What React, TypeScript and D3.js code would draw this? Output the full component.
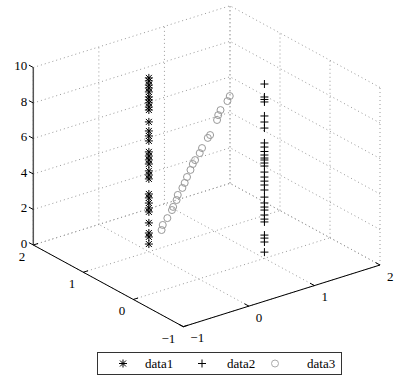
import React from "react";
import * as d3 from "d3";

const xTicks = [-1, 0, 1, 2];
const yTicks = [-1, 0, 1, 2];
const zTicks = [0, 2, 4, 6, 8, 10];

const data1X = 0;
const data1Y = 1;
const data1Z = [9.79, 9.62, 9.39, 9.22, 9.0, 8.72, 8.55, 8.38, 8.15, 7.98, 7.31, 6.8, 6.52, 6.24, 5.62, 5.39, 5.17, 4.94, 4.55, 4.32, 4.1, 3.25, 3.03, 2.74, 2.46, 2.24, 1.62, 1.05, 0.83, 0.43];

const data2X = 1;
const data2Y = 0;
const data2Z = [9.82, 9.09, 8.95, 8.81, 8.02, 7.68, 7.34, 6.5, 6.27, 6.02, 5.82, 5.65, 5.54, 5.37, 5.2, 4.86, 4.58, 4.35, 4.13, 3.85, 3.45, 3.12, 2.89, 2.72, 2.44, 2.21, 2.05, 1.31, 1.14, 0.92, 0.35];

const data3X = [0.11, 0.12, 0.16, 0.2, 0.21, 0.24, 0.25, 0.29, 0.31, 0.33, 0.36, 0.38, 0.4, 0.44, 0.46, 0.51, 0.53, 0.59, 0.6, 0.62, 0.68, 0.7];
const data3Y = [0.89, 0.88, 0.84, 0.8, 0.79, 0.76, 0.75, 0.71, 0.69, 0.67, 0.64, 0.62, 0.6, 0.56, 0.54, 0.49, 0.47, 0.41, 0.4, 0.38, 0.32, 0.3];
const data3Z = [1.26, 1.55, 1.95, 2.42, 2.6, 3.0, 3.29, 3.7, 3.99, 4.33, 4.74, 5.08, 5.31, 5.72, 6.01, 6.6, 6.77, 7.64, 7.92, 8.21, 8.74, 9.03];

const legendLabels = ["data1", "data2", "data3"];

const W = 400;
const H = 380;
const FONT = "'Liberation Serif', 'Times New Roman', serif";

// projection
const origin: [number, number] = [183.3, 326.7];
const EX: [number, number] = [196.7, -61.7];
const EY: [number, number] = [-150, -81.7];
const EZ: [number, number] = [0, -177.5];

const xs = d3.scaleLinear().domain([-1, 2]).range([0, 1]);
const ys = d3.scaleLinear().domain([-1, 2]).range([0, 1]);
const zs = d3.scaleLinear().domain([0, 10]).range([0, 1]);

function P(x: number, y: number, z: number): [number, number] {
  const a = xs(x), b = ys(y), c = zs(z);
  return [
    origin[0] + a * EX[0] + b * EY[0] + c * EZ[0],
    origin[1] + a * EX[1] + b * EY[1] + c * EZ[1],
  ];
}

const norm = (v: [number, number]): [number, number] => {
  const l = Math.hypot(v[0], v[1]);
  return [v[0] / l, v[1] / l];
};
const ux = norm(EX);
const uy = norm(EY);

const line = d3.line<[number, number]>();

const fmt = (v: number) => (v < 0 ? "\u2212" + Math.abs(v) : String(v));

function Asterisk({ cx, cy }: { cx: number; cy: number }) {
  const r = 4;
  const d = 3;
  return (
    <g stroke="#000" strokeWidth={1}>
      <line x1={cx - r} y1={cy} x2={cx + r} y2={cy} />
      <line x1={cx} y1={cy - r} x2={cx} y2={cy + r} />
      <line x1={cx - d} y1={cy - d} x2={cx + d} y2={cy + d} />
      <line x1={cx - d} y1={cy + d} x2={cx + d} y2={cy - d} />
    </g>
  );
}

function Plus({ cx, cy }: { cx: number; cy: number }) {
  const r = 4;
  return (
    <g stroke="#000" strokeWidth={1}>
      <line x1={cx - r} y1={cy} x2={cx + r} y2={cy} />
      <line x1={cx} y1={cy - r} x2={cx} y2={cy + r} />
    </g>
  );
}

export default function App() {
  const grid: [number, number][][] = [];
  xTicks.forEach((x) => grid.push([P(x, -1, 0), P(x, 2, 0)]));
  yTicks.forEach((y) => grid.push([P(-1, y, 0), P(2, y, 0)]));
  xTicks.forEach((x) => grid.push([P(x, 2, 0), P(x, 2, 10)]));
  zTicks.forEach((z) => grid.push([P(-1, 2, z), P(2, 2, z)]));
  yTicks.forEach((y) => grid.push([P(2, y, 0), P(2, y, 10)]));
  zTicks.forEach((z) => grid.push([P(2, -1, z), P(2, 2, z)]));

  const tl = 5;

  return (
    <svg
      width={W}
      height={H}
      style={{ position: "absolute", left: 0, top: 0, background: "#fff", fontFamily: FONT, fontSize: 13 }}
    >
      <rect width={W} height={H} fill="#fff" />
      <g fill="none" stroke="#999" strokeWidth={1} strokeDasharray="1,3">
        {grid.map((g, i) => (
          <path key={i} d={line(g) || ""} />
        ))}
      </g>
      <g stroke="#000" strokeWidth={1} fill="none">
        <path d={line([P(-1, 2, 0), P(-1, -1, 0)]) || ""} />
        <path d={line([P(-1, -1, 0), P(2, -1, 0)]) || ""} />
        <path d={line([P(-1, 2, 0), P(-1, 2, 10)]) || ""} stroke="#555" strokeWidth={1.5} />
        {zTicks.map((z) => {
          const p = P(-1, 2, z);
          return <line key={"zt" + z} x1={p[0]} y1={p[1]} x2={p[0] + uy[0] * tl} y2={p[1] + uy[1] * tl} />;
        })}
        {yTicks.map((y) => {
          const p = P(-1, y, 0);
          return <line key={"yt" + y} x1={p[0]} y1={p[1]} x2={p[0] + ux[0] * tl} y2={p[1] + ux[1] * tl} />;
        })}
        {xTicks.map((x) => {
          const p = P(x, -1, 0);
          return <line key={"xt" + x} x1={p[0]} y1={p[1]} x2={p[0] + uy[0] * tl} y2={p[1] + uy[1] * tl} />;
        })}
      </g>
      <g fill="#000">
        {zTicks.map((z) => {
          const p = P(-1, 2, z);
          return (
            <text key={"zl" + z} x={p[0] - 6} y={p[1] + 2.5} textAnchor="end">
              {fmt(z)}
            </text>
          );
        })}
        {yTicks.map((y) => {
          const p = P(-1, y, 0);
          return (
            <text key={"yl" + y} x={p[0] - 8} y={p[1] + 16} textAnchor="end">
              {fmt(y)}
            </text>
          );
        })}
        {xTicks.map((x) => {
          const p = P(x, -1, 0);
          return (
            <text key={"xl" + x} x={p[0] + 7} y={p[1] + 15.5} textAnchor="start">
              {fmt(x)}
            </text>
          );
        })}
      </g>
      <g>
        {data1Z.map((z, i) => {
          const p = P(data1X, data1Y, z);
          return <Asterisk key={"a" + i} cx={p[0]} cy={p[1]} />;
        })}
      </g>
      <g>
        {data2Z.map((z, i) => {
          const p = P(data2X, data2Y, z);
          return <Plus key={"p" + i} cx={p[0]} cy={p[1]} />;
        })}
      </g>
      <g fill="none" stroke="#999" strokeWidth={1}>
        {data3Z.map((z, i) => {
          const p = P(data3X[i], data3Y[i], z);
          return <circle key={"c" + i} cx={p[0]} cy={p[1]} r={3.5} />;
        })}
      </g>
      <g>
        <rect x={97.5} y={352.5} width={244} height={22} fill="#fff" stroke="#333" strokeWidth={1} />
        <Asterisk cx={123} cy={363.5} />
        <text x={145} y={368}>{legendLabels[0]}</text>
        <Plus cx={202} cy={363.5} />
        <text x={227} y={368}>{legendLabels[1]}</text>
        <circle cx={275} cy={363.5} r={3.5} fill="none" stroke="#aaa" />
        <text x={307} y={368}>{legendLabels[2]}</text>
      </g>
    </svg>
  );
}
